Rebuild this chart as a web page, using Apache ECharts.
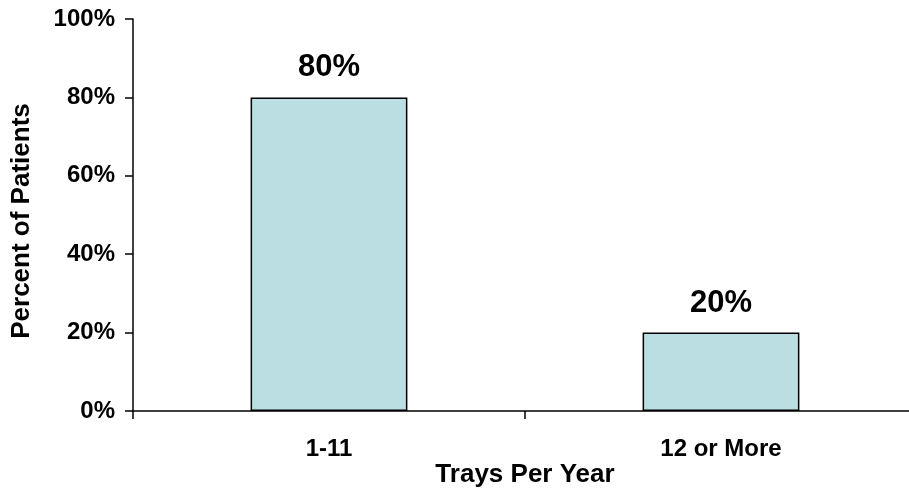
<!DOCTYPE html>
<html>
<head>
<meta charset="utf-8">
<script src="https://cdn.jsdelivr.net/npm/echarts@6/dist/echarts.min.js"></script>
<style>
  html, body { margin: 0; padding: 0; background: #ffffff; overflow: hidden; }
  #chart { width: 909px; height: 488px; }
</style>
</head>
<body>
<div id="chart"></div>
<script>
// Share of patients by number of trays used per year
const categories = ['1-11', '12 or More'];
const percentValues = [80, 20];
const yTicks = { min: 0, max: 100, step: 20 };

const FONT = '"Liberation Sans", Arial, sans-serif';

const chart = echarts.init(document.getElementById('chart'), null, { renderer: 'canvas', width: 909, height: 488 });

chart.setOption({
  animation: false,
  backgroundColor: '#ffffff',
  // plot area runs slightly past the right edge of the canvas
  grid: { left: 133, top: 19, width: 784, height: 392, outerBoundsMode: 'none' },
  xAxis: {
    type: 'category',
    data: categories,
    boundaryGap: true,
    name: 'Trays Per Year',
    nameLocation: 'middle',
    nameGap: 51,
    nameMoveOverlap: false,
    nameTextStyle: { fontFamily: FONT, fontWeight: 'bold', fontSize: 26, color: '#000' },
    axisLine: { show: true, lineStyle: { color: '#000', width: 1.5 } },
    axisTick: { show: true, inside: false, length: 8, alignWithLabel: false, lineStyle: { color: '#000', width: 1.5 } },
    axisLabel: { fontFamily: FONT, fontWeight: 'bold', fontSize: 24, color: '#000', margin: 26 },
    splitLine: { show: false }
  },
  yAxis: {
    type: 'value',
    min: yTicks.min,
    max: yTicks.max,
    interval: yTicks.step,
    name: 'Percent of Patients',
    nameLocation: 'middle',
    nameRotate: 90,
    nameGap: 98,
    nameMoveOverlap: false,
    nameTextStyle: { fontFamily: FONT, fontWeight: 'bold', fontSize: 26, color: '#000', padding: [0, 12, 0, 0] },
    axisLine: { show: true, lineStyle: { color: '#000', width: 1.5 } },
    axisTick: { show: true, inside: false, length: 8, lineStyle: { color: '#000', width: 1.5 } },
    axisLabel: {
      fontFamily: FONT, fontWeight: 'bold', fontSize: 24, color: '#000', margin: 18,
      formatter: '{value}%'
    },
    splitLine: { show: false }
  },
  series: [{
    type: 'bar',
    data: percentValues,
    barWidth: '40%',
    itemStyle: { color: '#BBDEE3', borderColor: '#000', borderWidth: 1.5 },
    label: {
      show: true,
      position: 'top',
      distance: 14,
      formatter: '{c}%',
      fontFamily: FONT,
      fontWeight: 'bold',
      fontSize: 31,
      color: '#000'
    }
  }]
});
</script>
</body>
</html>
